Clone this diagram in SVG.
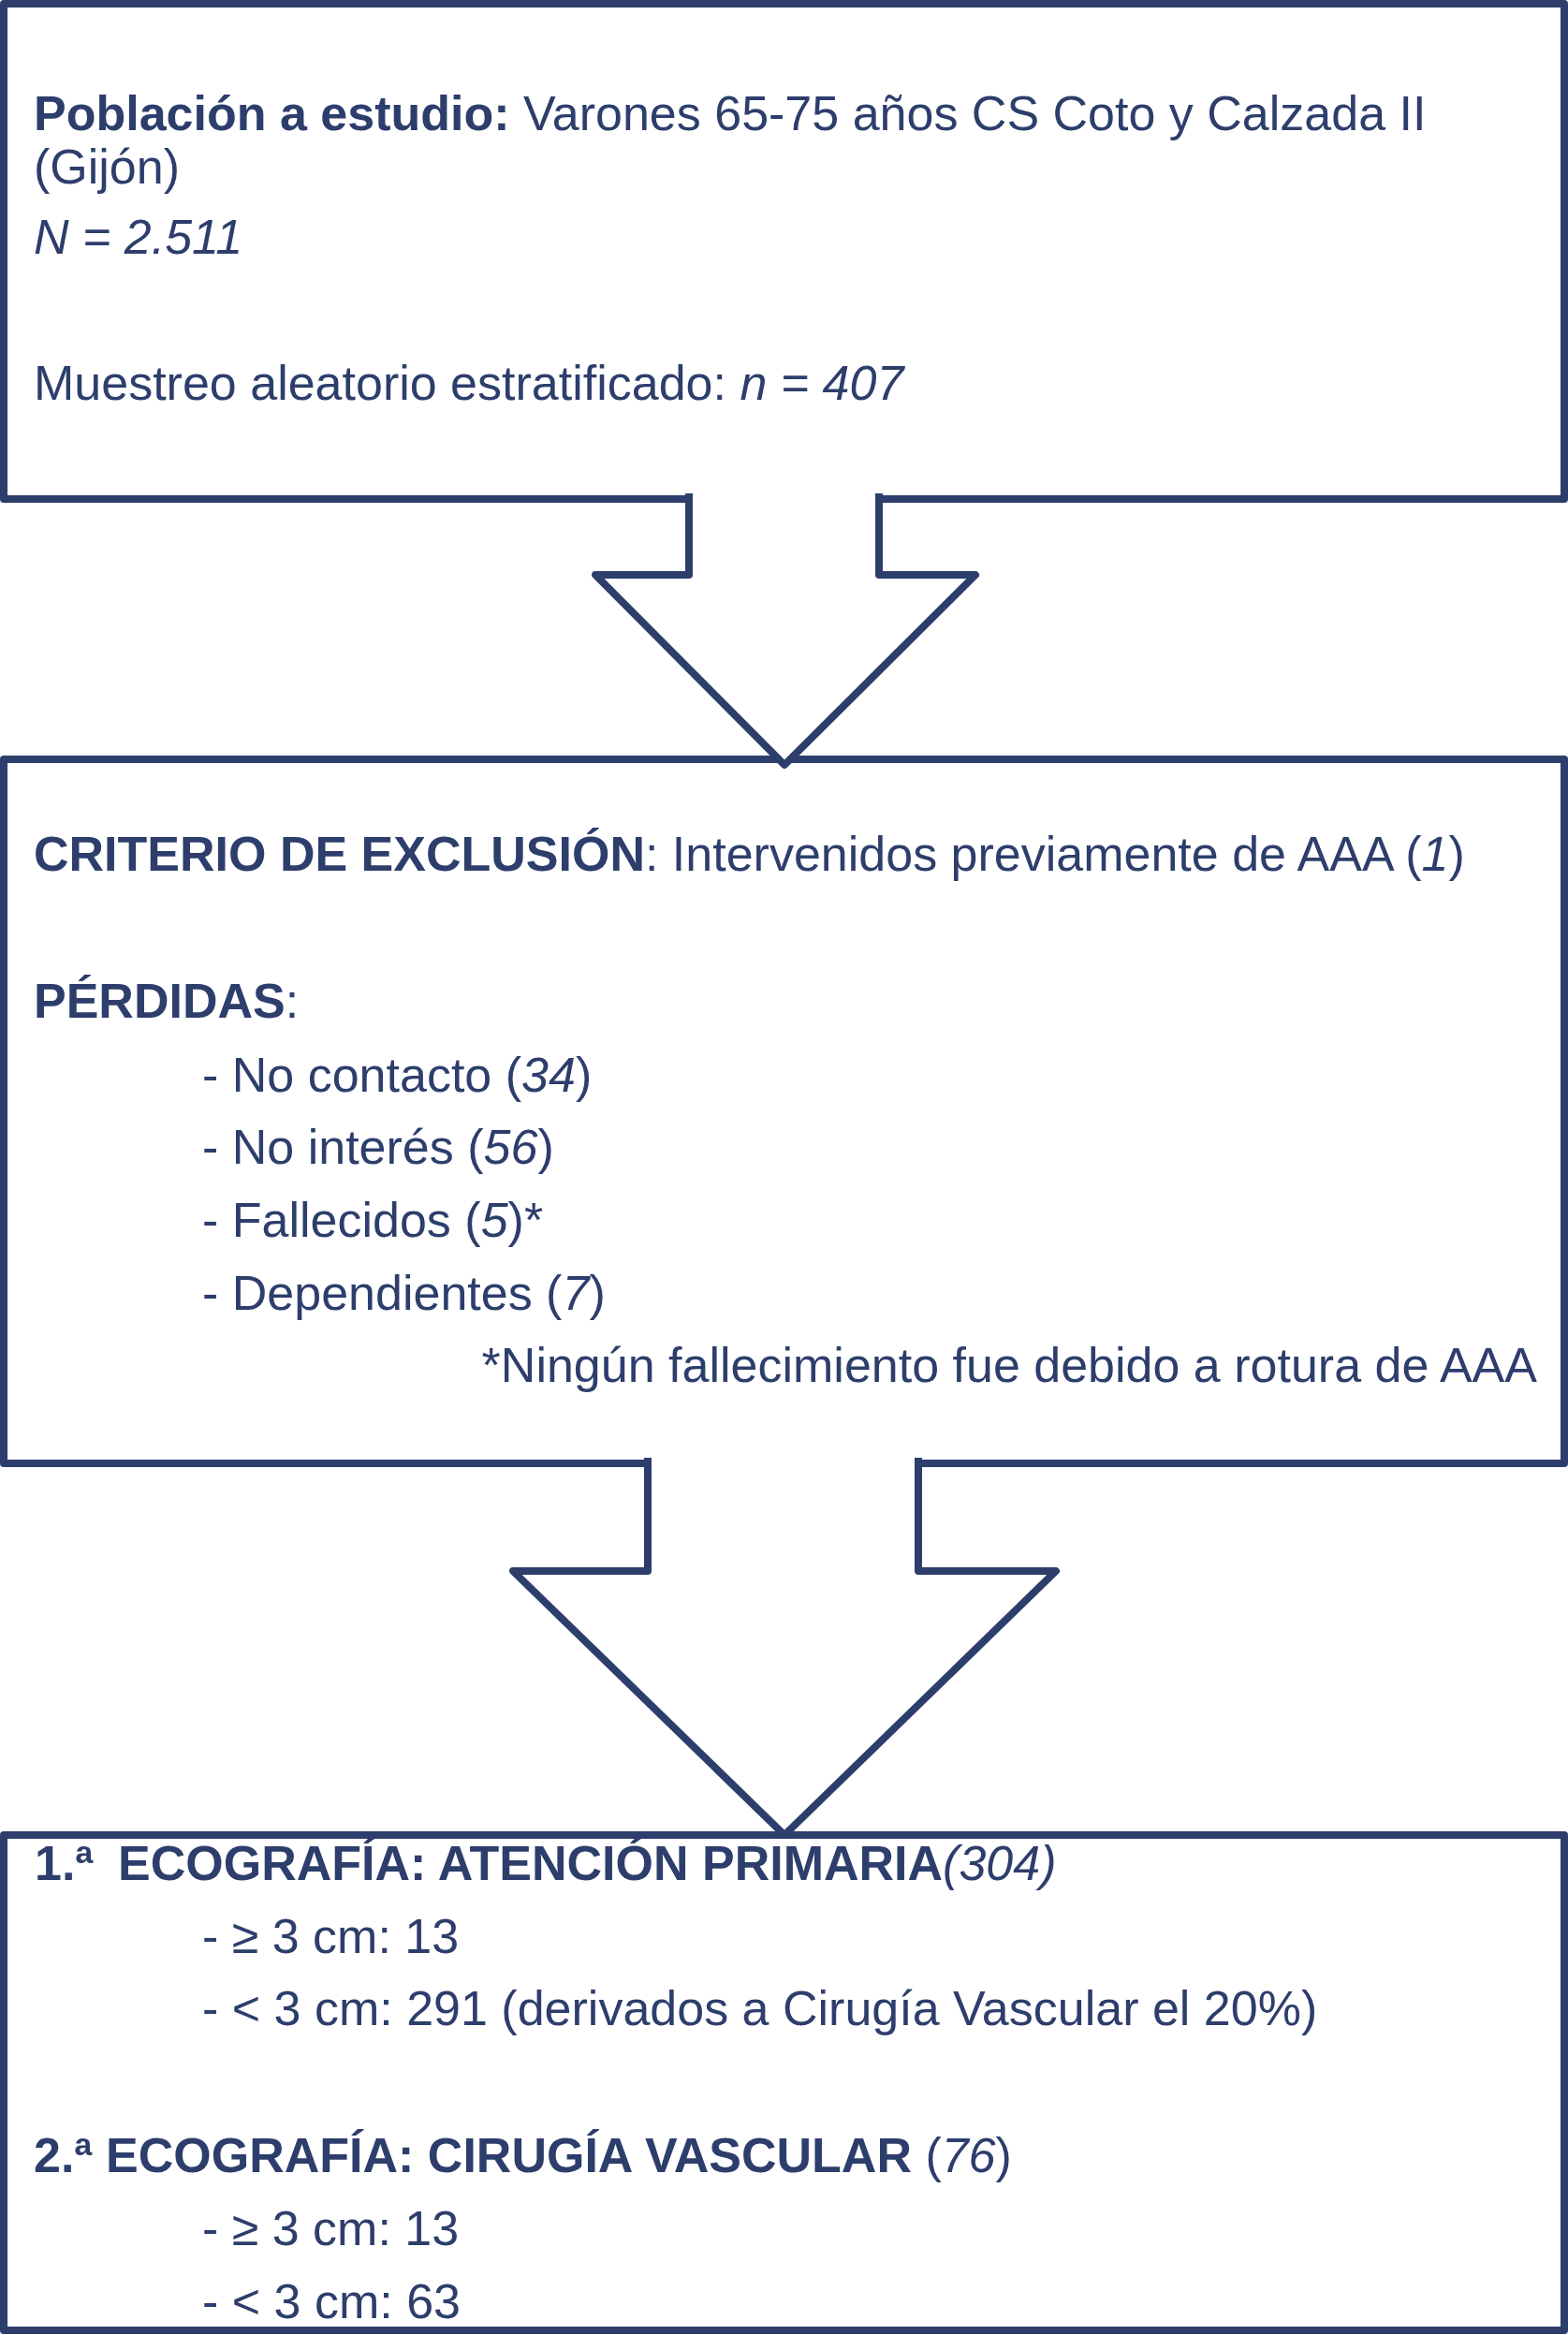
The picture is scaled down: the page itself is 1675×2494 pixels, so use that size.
<svg xmlns="http://www.w3.org/2000/svg" width="1675" height="2494" viewBox="0 0 1675 2494">
<style>
.box{fill:#ffffff;stroke:#2d3e6c;stroke-width:8;stroke-linejoin:round}
.arrow{fill:#ffffff;stroke:#2d3e6c;stroke-width:8;stroke-linejoin:round}
.cover{fill:#ffffff;stroke:none}
text{font-family:"Liberation Sans",Arial,sans-serif;font-size:52px;fill:#2d3e6c}
.b{font-weight:bold}
.i{font-style:italic}
</style>
<rect width="1675" height="2494" fill="#ffffff"/>
<g id="node-poblacion">
<rect class="box" x="4" y="4" width="1667" height="529"/>
<text x="36" y="139"><tspan class="b">Población a estudio:</tspan> Varones 65-75 años CS Coto y Calzada II</text>
<text x="36" y="196">(Gijón)</text>
<text x="36" y="271" class="i">N = 2.511</text>
<text x="36" y="427">Muestreo aleatorio estratificado: <tspan class="i">n = 407</tspan></text>
</g>
<g id="node-exclusion">
<rect class="box" x="4" y="811" width="1667" height="752"/>
<text x="36" y="930"><tspan class="b">CRITERIO DE EXCLUSIÓN</tspan>: Intervenidos previamente de AAA (<tspan class="i">1</tspan>)</text>
<text x="36" y="1087"><tspan class="b">PÉRDIDAS</tspan>:</text>
<text x="216" y="1166">- No contacto (<tspan class="i">34</tspan>)</text>
<text x="216" y="1243">- No interés (<tspan class="i">56</tspan>)</text>
<text x="216" y="1321">- Fallecidos (<tspan class="i">5</tspan>)*</text>
<text x="216" y="1399">- Dependientes (<tspan class="i">7</tspan>)</text>
<text x="1642" y="1476" text-anchor="end">*Ningún fallecimiento fue debido a rotura de AAA</text>
</g>
<g id="node-ecografia">
<rect class="box" x="4" y="1960" width="1667" height="529"/>
<text x="37" y="2008" class="b">1.ª</text>
<text x="126" y="2008"><tspan class="b">ECOGRAFÍA: ATENCIÓN PRIMARIA</tspan><tspan class="i">(304)</tspan></text>
<text x="216" y="2086">- ≥ 3 cm: 13</text>
<text x="216" y="2163">- &lt; 3 cm: 291 (derivados a Cirugía Vascular el 20%)</text>
<text x="36" y="2320"><tspan class="b">2.ª ECOGRAFÍA: CIRUGÍA VASCULAR</tspan> (<tspan class="i">76</tspan>)</text>
<text x="216" y="2398">- ≥ 3 cm: 13</text>
<text x="216" y="2476">- &lt; 3 cm: 63</text>
</g>
<g id="connectors">
<g id="arrow-1">
<polygon class="cover" points="736,527 939,527 939,614 1042,614 838,817 636,614 736,614"/>
<path class="arrow" d="M736,527 V614 H636 L838,817 L1042,614 H939 V527" style="fill:none"/>
</g>
<g id="arrow-2">
<polygon class="cover" points="692,1557 981,1557 981,1678 1128,1678 838,1960 548,1678 692,1678"/>
<path class="arrow" d="M692,1557 V1678 H548 L838,1960 L1128,1678 H981 V1557" style="fill:none"/>
</g>
</g>
</svg>
